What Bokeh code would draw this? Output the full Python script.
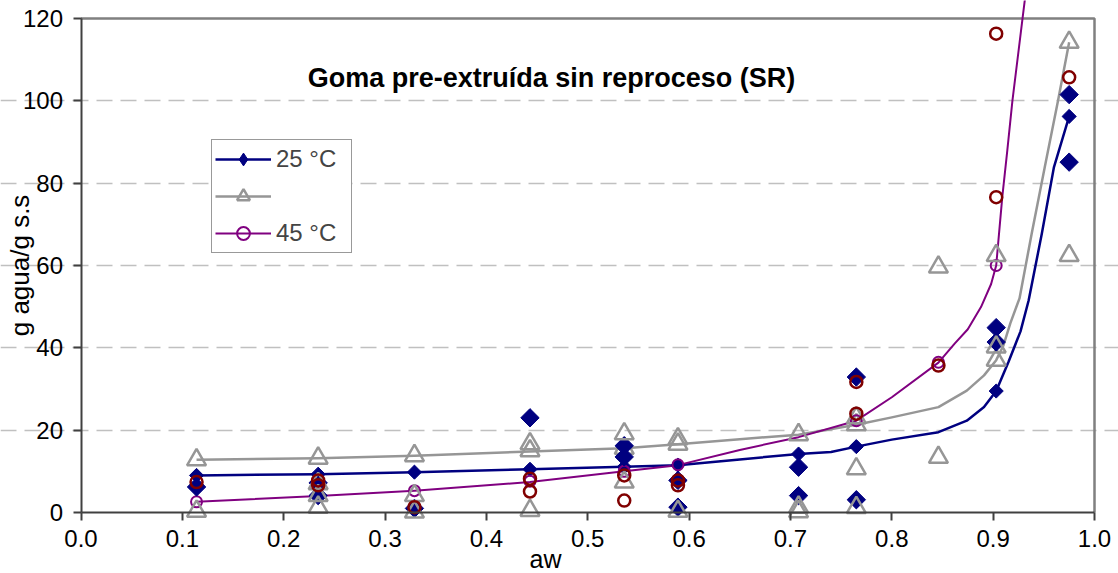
from math import pi

from bokeh.embed import file_html
from bokeh.models import (ColumnDataSource, FixedTicker, Label, Legend, LegendItem,
                          PrintfTickFormatter, Range1d)
from bokeh.plotting import figure
from bokeh.resources import INLINE

# ---- fitted isotherm curves (traced points) ----
curve25_aw = [0.114, 0.234, 0.329, 0.443, 0.536, 0.589, 0.650, 0.708, 0.740, 0.765,
              0.800, 0.846, 0.874, 0.891, 0.903, 0.915, 0.927, 0.935, 0.948, 0.960, 0.975]
curve25 = [9.0, 9.3, 9.8, 10.5, 11.1, 11.5, 12.9, 14.2, 14.7, 16.0,
           17.7, 19.5, 22.3, 25.6, 29.5, 36.5, 44.0, 51.5, 67.7, 83.9, 96.2]

curve35_aw = [0.114, 0.234, 0.329, 0.443, 0.536, 0.589, 0.650, 0.708, 0.765, 0.800,
              0.846, 0.874, 0.891, 0.903, 0.910, 0.917, 0.926, 0.938, 0.951, 0.964, 0.975]
curve35 = [12.8, 13.2, 13.8, 14.8, 15.6, 16.6, 17.8, 18.9, 21.3, 23.1,
           25.6, 29.6, 33.3, 37.0, 40.5, 46.0, 52.0, 67.7, 84.0, 100.0, 114.2]

curve45_aw = [0.114, 0.234, 0.329, 0.443, 0.536, 0.589, 0.650, 0.708, 0.765, 0.800,
              0.846, 0.862, 0.875, 0.888, 0.898, 0.903, 0.909, 0.914, 0.919, 0.929, 0.934]
curve45 = [2.6, 4.0, 5.3, 7.4, 10.0, 11.5, 15.2, 18.3, 22.3, 28.0,
           36.4, 41.0, 44.5, 49.9, 55.5, 60.0, 76.6, 88.0, 100.0, 120.0, 130.0]

# ---- model values at the measured water activities ----
fit25_aw = [0.114, 0.234, 0.329, 0.443, 0.536, 0.589, 0.708, 0.765, 0.903, 0.975]
fit25 = [9.0, 9.3, 9.8, 10.5, 11.1, 11.5, 14.2, 16.0, 29.5, 96.2]

fit35_aw = [0.114, 0.234, 0.329, 0.443, 0.536, 0.589, 0.708, 0.765, 0.903, 0.975]
fit35 = [12.8, 13.2, 13.8, 15.0, 15.6, 16.6, 18.9, 21.3, 37.0, 114.2]

fit45_aw = [0.114, 0.234, 0.329, 0.443, 0.536, 0.589, 0.765, 0.846, 0.903]
fit45 = [2.6, 4.0, 5.3, 7.6, 10.0, 11.6, 22.3, 36.5, 60.0]

# ---- experimental replicates ----
exp25_aw = [0.114, 0.234, 0.234, 0.329, 0.443, 0.536, 0.536, 0.589, 0.589,
            0.708, 0.708, 0.765, 0.765, 0.903, 0.903, 0.975, 0.975]
exp25 = [6.2, 7.2, 4.1, 1.0, 23.0, 16.2, 13.5, 7.8, 1.3,
         11.0, 4.1, 32.9, 3.1, 44.9, 41.4, 101.5, 85.1]

exp35_aw = [0.114, 0.234, 0.234, 0.234, 0.329, 0.329, 0.443, 0.443, 0.536, 0.536,
            0.589, 0.589, 0.708, 0.708, 0.765, 0.765, 0.765, 0.846, 0.846,
            0.903, 0.903, 0.975]
exp35 = [0.3, 7.0, 4.1, 1.3, 4.1, 0.1, 16.7, 0.5, 19.1, 7.4,
         17.9, 0.3, 1.3, 0.2, 23.0, 10.6, 1.2, 59.6, 13.4,
         62.4, 40.2, 62.4]

exp45_aw = [0.114, 0.234, 0.234, 0.329, 0.443, 0.443, 0.536, 0.536, 0.589, 0.589,
            0.765, 0.765, 0.846, 0.903, 0.903, 0.975]
exp45 = [7.4, 7.8, 6.6, 1.3, 8.2, 5.1, 9.0, 2.9, 7.8, 6.6,
         31.7, 24.0, 35.7, 116.3, 76.6, 105.7]

x_ticks = [0.0, 0.1, 0.2, 0.3, 0.4, 0.5, 0.6, 0.7, 0.8, 0.9, 1.0]
y_ticks = [0, 20, 40, 60, 80, 100, 120]
grid_ticks = [20, 40, 60, 80, 100]

title_text = "Goma pre-extruída sin reproceso (SR)"
x_title = "aw"
y_title = "g agua/g s.s"
legend_labels = ["25 °C", " ", "45 °C"]

NAVY = "#000080"
GRAY = "#969696"
PURPLE = "#800080"
DARKRED = "#800000"
FONT = "Liberation Sans"

# The frame spans the whole canvas; the axes sit at fixed data positions so the
# plotting area (0..1 x 0..120) keeps room around it for the tick labels and titles.
p = figure(width=1118, height=573, output_backend="svg", toolbar_location=None,
           x_range=Range1d(-0.07943, 1.02368), y_range=Range1d(-14.817, 124.36),
           min_border=0, title=None)
p.outline_line_color = None
p.background_fill_color = "white"
p.border_fill_color = "white"

for ax in (p.xaxis[0], p.yaxis[0]):
    ax.fixed_location = 0
    ax.axis_line_color = "#404040"
    ax.axis_line_width = 2
    ax.major_tick_line_color = "#404040"
    ax.major_tick_line_width = 2
    ax.major_tick_out = 8
    ax.major_tick_in = 0
    ax.minor_tick_out = 0
    ax.minor_tick_in = 0
    ax.major_label_text_font = FONT
    ax.major_label_text_font_size = "24px"
    ax.major_label_text_color = "black"

p.xaxis.ticker = FixedTicker(ticks=x_ticks)
p.xaxis.formatter = PrintfTickFormatter(format="%.1f")
p.xaxis.bounds = (0, 1.0)
p.xaxis.major_label_standoff = 10
p.yaxis.ticker = FixedTicker(ticks=y_ticks)
p.yaxis.bounds = (0, 120)
p.yaxis.major_label_standoff = 10

p.xgrid.visible = False
p.ygrid.ticker = FixedTicker(ticks=grid_ticks)
p.ygrid.bounds = (0, 1.0)
p.ygrid.grid_line_color = "#C0C0C0"
p.ygrid.grid_line_width = 1.5
p.ygrid.grid_line_dash = "16 8"

# plot-area border (top and right)
p.line(x=[0, 1.0, 1.0], y=[120, 120, 0], line_color="#808080", line_width=2.5)

# fitted curves
l25 = p.line(curve25_aw, curve25, line_color=NAVY, line_width=2.5, line_join="round")
l35 = p.line(curve35_aw, curve35, line_color=GRAY, line_width=2.5, line_join="round")
l45 = p.line(curve45_aw, curve45, line_color=PURPLE, line_width=2, line_join="round")

fit25_src = ColumnDataSource(dict(aw=fit25_aw, w=fit25))
# small diamonds under the fitted markers; they give the 25 °C legend its symbol
m25_key = p.scatter("aw", "w", source=fit25_src, marker="diamond", size=8,
                    fill_color=NAVY, line_color=NAVY)
p.scatter("aw", "w", source=fit25_src, marker="square", angle=pi / 4, size=10,
          fill_color=NAVY, line_color=NAVY)
m35 = p.scatter(fit35_aw, fit35, marker="triangle", size=19, fill_color=None,
                line_color=GRAY, line_width=2.5)
m45 = p.scatter(fit45_aw, fit45, marker="circle", size=11, fill_color=None,
                line_color=PURPLE, line_width=2)

# measured points
p.scatter(exp25_aw, exp25, marker="square", angle=pi / 4, size=13,
          fill_color=NAVY, line_color=NAVY)
p.scatter(exp35_aw, exp35, marker="triangle", size=19, fill_color=None,
          line_color=GRAY, line_width=2.5)
p.scatter(exp45_aw, exp45, marker="circle", size=12, fill_color=None,
          line_color=DARKRED, line_width=2.5)

legend = Legend(items=[LegendItem(label=legend_labels[0], renderers=[l25, m25_key]),
                       LegendItem(label=legend_labels[1], renderers=[l35, m35]),
                       LegendItem(label=legend_labels[2], renderers=[l45, m45])],
                location=(211, 320), orientation="vertical",
                border_line_color="#333333", border_line_width=1,
                background_fill_color="white", background_fill_alpha=1.0,
                label_text_font=FONT, label_text_font_size="24px",
                glyph_width=56, glyph_height=32, label_height=28, label_width=72,
                label_standoff=5, spacing=5, padding=3, margin=0)
p.add_layout(legend)

p.add_layout(Label(x=0.4642, y=105.5, text=title_text, text_align="center",
                   text_baseline="middle", text_font=FONT,
                   text_font_size="27px", text_font_style="bold", text_color="black"))
p.add_layout(Label(x=0.4583, y=-11.2, text=x_title, text_align="center",
                   text_baseline="middle", text_font=FONT,
                   text_font_size="25px", text_color="black"))
p.add_layout(Label(x=-0.0597, y=60, text=y_title, angle=pi / 2, text_align="center",
                   text_baseline="middle", text_font=FONT,
                   text_font_size="26px", text_color="black"))

open("out.html", "w").write(file_html(p, INLINE))
